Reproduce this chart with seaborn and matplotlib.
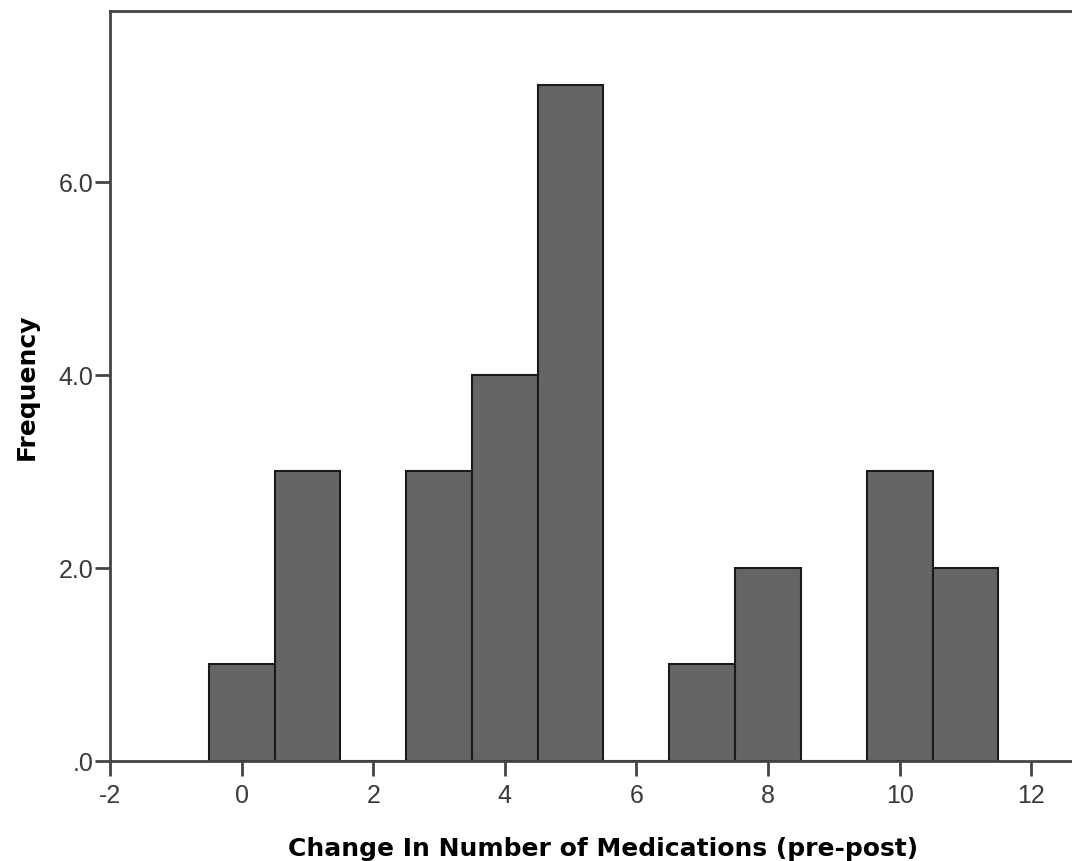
import matplotlib
matplotlib.use("Agg")
import matplotlib.pyplot as plt
import seaborn as sns
import pandas as pd

# Histogram values
change_values = [0, 1, 3, 4, 5, 7, 8, 10, 11]
frequencies = [1, 3, 3, 4, 7, 1, 2, 3, 2]
x_ticks = [-2, 0, 2, 4, 6, 8, 10, 12]
x_tick_labels = ["-2", "0", "2", "4", "6", "8", "10", "12"]
y_ticks = [0, 2, 4, 6]
y_tick_labels = [".0", "2.0", "4.0", "6.0"]

df = pd.DataFrame({"change": change_values, "freq": frequencies})

sns.set_style("white")
plt.rcParams['font.family'] = ['Liberation Sans', 'DejaVu Sans']

fig = plt.figure(figsize=(10.72, 8.62), dpi=100)
ax = fig.add_axes([110 / 1072, 100 / 862, 987 / 1072, 750 / 862])

sns.histplot(data=df, x="change", weights="freq", discrete=True,
             color="#656565", edgecolor="#1a1a1a", linewidth=1.5,
             alpha=1, ax=ax)

ax.set_xlim(-2, 13)
ax.set_ylim(0, 7.77)
ax.set_xticks(x_ticks)
ax.set_xticklabels(x_tick_labels)
ax.set_yticks(y_ticks)
ax.set_yticklabels(y_tick_labels)

for side in ["left", "bottom", "top", "right"]:
    ax.spines[side].set_visible(True)
    ax.spines[side].set_color("#444444")
    ax.spines[side].set_linewidth(2)

ax.tick_params(axis="x", direction="out", length=11, width=2, color="#444444",
               labelsize=18, labelcolor="#3a3a3a", pad=5, bottom=True)
ax.tick_params(axis="y", direction="out", length=11, width=2, color="#444444",
               labelsize=18, labelcolor="#3a3a3a", pad=1, left=True)

label_font = {"family": "DejaVu Sans", "size": 18, "weight": "bold"}
ax.set_xlabel("Change In Number of Medications (pre-post)",
              fontdict=label_font, color="black", labelpad=21)
ax.set_ylabel("Frequency", fontdict=label_font, color="black", labelpad=14)

fig.savefig("out.png", dpi=100)
